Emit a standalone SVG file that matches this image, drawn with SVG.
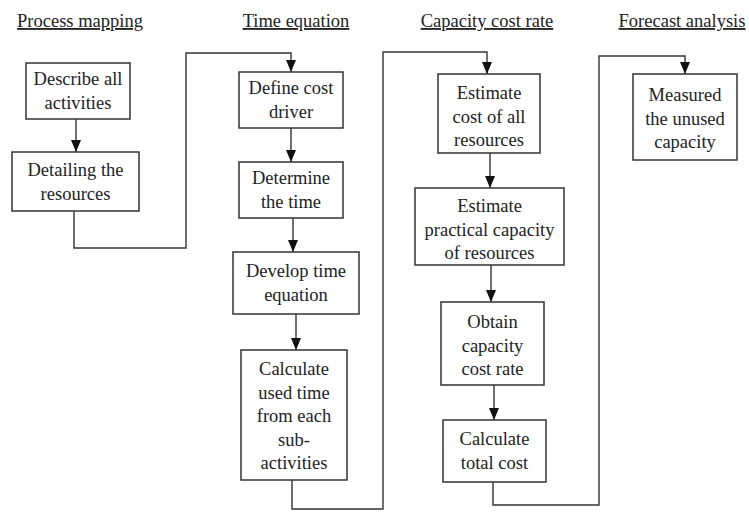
<svg xmlns="http://www.w3.org/2000/svg" width="749" height="512" viewBox="0 0 749 512">
<defs>
<style>
.box{fill:#fff;stroke:#333;stroke-width:1.5}
.t{font-family:'Liberation Serif','DejaVu Serif',serif;font-size:18.5px;fill:#222;text-anchor:middle}
.h{font-family:'Liberation Serif','DejaVu Serif',serif;font-size:18.5px;fill:#222;text-anchor:middle;text-decoration:underline}
.c{fill:none;stroke:#333;stroke-width:1.4;marker-end:url(#ah)}
</style>
<marker id="ah" markerUnits="userSpaceOnUse" markerWidth="12" markerHeight="12" viewBox="0 0 12 12" refX="12" refY="6" orient="auto">
<path d="M0,1 L12,6 L0,11 Z" fill="#111"/>
</marker>
</defs>
<rect width="749" height="512" fill="#fff"/>
<g id="titles" font-family="Liberation Serif, serif">
<text class="h" x="80" y="27">Process mapping</text>
<text class="h" x="296" y="27">Time equation</text>
<text class="h" x="487" y="27">Capacity cost rate</text>
<text class="h" x="682" y="27">Forecast analysis</text>
</g>
<g id="connectors">
<path class="c" d="M76 119 V152"/>
<path class="c" d="M74 211 V248 H186 V53 H291 V72"/>
<path class="c" d="M291 128 V162"/>
<path class="c" d="M293 218 V252"/>
<path class="c" d="M296 314 V350"/>
<path class="c" d="M292 480 V509 H383 V52 H487 V74"/>
<path class="c" d="M490 153 V188"/>
<path class="c" d="M491 265 V302"/>
<path class="c" d="M494 385 V420"/>
<path class="c" d="M493 482 V505 H599 V56 H685 V74"/>
</g>
<g id="n1"><rect class="box" x="26" y="63" width="104" height="56"/>
<text class="t" x="78" y="85">Describe all</text><text class="t" x="78" y="108.5">activities</text></g>
<g id="n2"><rect class="box" x="12" y="152" width="127" height="59"/>
<text class="t" x="75.5" y="176">Detailing the</text><text class="t" x="75.5" y="199.5">resources</text></g>
<g id="n3"><rect class="box" x="239" y="72" width="104" height="56"/>
<text class="t" x="291" y="94">Define cost</text><text class="t" x="291" y="117.5">driver</text></g>
<g id="n4"><rect class="box" x="239" y="162" width="104" height="56"/>
<text class="t" x="291" y="184">Determine</text><text class="t" x="291" y="207.5">the time</text></g>
<g id="n5"><rect class="box" x="233" y="252" width="126" height="62"/>
<text class="t" x="296" y="277">Develop time</text><text class="t" x="296" y="300.5">equation</text></g>
<g id="n6"><rect class="box" x="241" y="350" width="106" height="130"/>
<text class="t" x="294" y="375">Calculate</text><text class="t" x="294" y="398.5">used time</text><text class="t" x="294" y="422">from each</text><text class="t" x="294" y="445.5">sub-</text><text class="t" x="294" y="469">activities</text></g>
<g id="n7"><rect class="box" x="438" y="74" width="102" height="79"/>
<text class="t" x="489" y="99">Estimate</text><text class="t" x="489" y="122.5">cost of all</text><text class="t" x="489" y="146">resources</text></g>
<g id="n8"><rect class="box" x="415" y="188" width="149" height="77"/>
<text class="t" x="489.5" y="212">Estimate</text><text class="t" x="489.5" y="235.5">practical capacity</text><text class="t" x="489.5" y="259">of resources</text></g>
<g id="n9"><rect class="box" x="441" y="302" width="103" height="83"/>
<text class="t" x="492.5" y="328">Obtain</text><text class="t" x="492.5" y="351.5">capacity</text><text class="t" x="492.5" y="375">cost rate</text></g>
<g id="n10"><rect class="box" x="443" y="420" width="103" height="62"/>
<text class="t" x="494.5" y="445">Calculate</text><text class="t" x="494.5" y="468.5">total cost</text></g>
<g id="n11"><rect class="box" x="633" y="74" width="104" height="86"/>
<text class="t" x="685" y="101">Measured</text><text class="t" x="685" y="124.5">the unused</text><text class="t" x="685" y="148">capacity</text></g>
</svg>
